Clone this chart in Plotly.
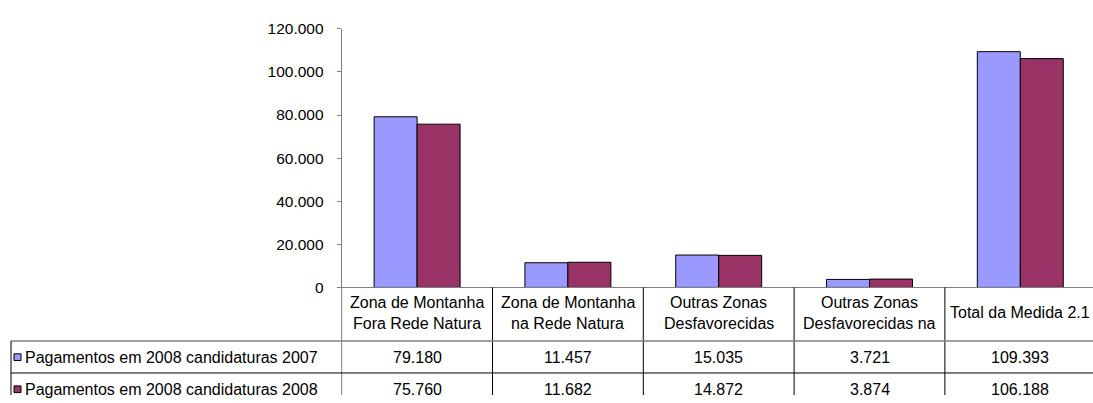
import plotly.graph_objects as go

# ---- data ----
categories = [
    "Zona de Montanha<br>Fora Rede Natura",
    "Zona de Montanha<br>na Rede Natura",
    "Outras Zonas<br>Desfavorecidas",
    "Outras Zonas<br>Desfavorecidas na",
    "Total da Medida 2.1",
]
series_names = [
    "Pagamentos em 2008 candidaturas 2007",
    "Pagamentos em 2008 candidaturas 2008",
]
values_2007 = [79180, 11457, 15035, 3721, 109393]
values_2008 = [75760, 11682, 14872, 3874, 106188]
y_ticks = [0, 20000, 40000, 60000, 80000, 100000, 120000]

# ---- styling / layout helpers ----
W, H = 1093, 403
FONT = "Liberation Sans, Arial, sans-serif"
FS = 16
FS_TICK = 15.5
colors = ["#9999FF", "#993366"]
AXIS_GRAY = "#808080"


def px(x):
    return x / W


def py(y):
    return (H - y) / H


def fmt(v):
    return f"{v:,}".replace(",", ".")


series = [values_2007, values_2008]

fig = go.Figure()
for name, vals, col in zip(series_names, series, colors):
    fig.add_trace(go.Bar(
        x=categories, y=vals, name=name,
        marker=dict(color=col, line=dict(color="#000000", width=1)),
        hoverinfo="x+y",
    ))

axis_left = 341.7
col_w = 150.8
x_end = -0.5 + (W - axis_left) / col_w

shapes = []
annotations = []

# table grid
for i in range(len(categories) - 1):
    shapes.append(dict(type="line", xref="x", yref="paper",
                       x0=i + 0.5, x1=i + 0.5, y0=0, y1=py(290.7),
                       line=dict(color="#000000", width=1)))
shapes.append(dict(type="line", xref="paper", yref="paper",
                   x0=px(axis_left), x1=px(axis_left), y0=0, y1=py(290.7),
                   line=dict(color=AXIS_GRAY, width=1)))
shapes.append(dict(type="line", xref="paper", yref="paper",
                   x0=px(11), x1=1, y0=py(346.7), y1=py(346.7),
                   line=dict(color=AXIS_GRAY, width=1.5)))
shapes.append(dict(type="line", xref="paper", yref="paper",
                   x0=px(11), x1=1, y0=py(380), y1=py(380),
                   line=dict(color="#000000", width=1)))
shapes.append(dict(type="line", xref="paper", yref="paper",
                   x0=px(11), x1=px(11), y0=0, y1=py(346.7),
                   line=dict(color="#000000", width=1)))

# header labels
for i, cat in enumerate(categories):
    lines = cat.split("<br>")
    ys = [317.0] if len(lines) == 1 else [306.0, 328.0]
    for ln, yy in zip(lines, ys):
        annotations.append(dict(text=ln, x=i, y=py(yy), xref="x", yref="paper",
                                xanchor="center", yanchor="middle", showarrow=False,
                                font=dict(family=FONT, size=FS, color="#000000")))

# data rows
row_centers = [363.5, 397.0]
for r, (name, vals, col) in enumerate(zip(series_names, series, colors)):
    yc = row_centers[r]
    shapes.append(dict(type="rect", xref="paper", yref="paper",
                       x0=px(14), x1=px(21), y0=py(yc + 3.5), y1=py(yc - 3.5),
                       fillcolor=col, line=dict(color="#000000", width=1)))
    annotations.append(dict(text=name, x=px(23), y=py(yc), xref="paper", yref="paper",
                            xanchor="left", yanchor="middle", showarrow=False,
                            font=dict(family=FONT, size=FS, color="#000000")))
    for i, v in enumerate(vals):
        annotations.append(dict(text=fmt(v), x=i, y=py(yc), xref="x", yref="paper",
                                xanchor="center", yanchor="middle", showarrow=False,
                                font=dict(family=FONT, size=FS, color="#000000")))

fig.update_layout(
    width=W, height=H, autosize=False,
    margin=dict(l=0, r=0, t=0, b=0, pad=0),
    paper_bgcolor="white", plot_bgcolor="white",
    showlegend=False,
    separators=",.",
    barmode="group", bargap=0.43, bargroupgap=0,
    font=dict(family=FONT, size=FS, color="#000000"),
    xaxis=dict(domain=[px(axis_left), 1], range=[-0.5, x_end],
               showline=True, linecolor=AXIS_GRAY, linewidth=1,
               showticklabels=False, ticks="", showgrid=False, zeroline=False),
    yaxis=dict(domain=[py(290.7), py(20.7)], range=[0, 120000],
               tickmode="array", tickvals=y_ticks, tickformat=",",
               ticks="outside", ticklen=4, tickcolor=AXIS_GRAY, tickwidth=1,
               ticklabelstandoff=10,
               showline=True, linecolor=AXIS_GRAY, linewidth=1,
               showgrid=False, zeroline=False,
               tickfont=dict(family=FONT, size=FS_TICK, color="#000000")),
    shapes=shapes,
    annotations=annotations,
)

fig.write_html(
    "out.html",
    config={"displayModeBar": False},
    post_script="document.body.style.margin='0';document.body.style.padding='0';"
                "document.body.style.overflow='hidden';",
)
